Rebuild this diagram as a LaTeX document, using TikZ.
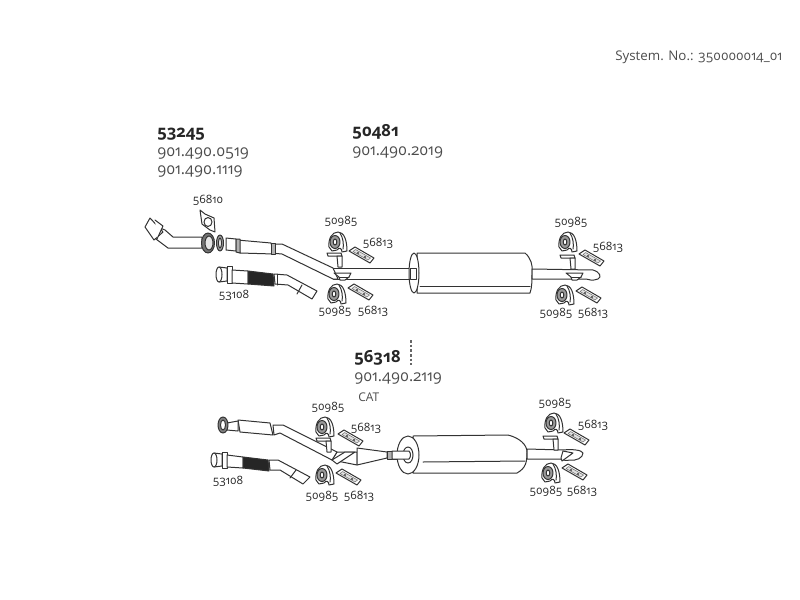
\documentclass[tikz,border=0pt]{standalone}
\usepackage{fontspec}
\setmainfont[Numbers=OldStyle]{Open Sans}
\tikzset{
  pipe/.style={draw=black!80,line width=0.75pt,fill=white,line join=round},
  bigno/.style={font=\fontsize{12.5}{13}\selectfont\bfseries,text=black!85,anchor=west,inner sep=0pt},
  artno/.style={font=\fontsize{11.8}{12}\selectfont,text=black!70,anchor=west,inner sep=0pt},
  partno/.style={font=\fontsize{8.6}{10}\selectfont,text=black!85,inner sep=0pt},
  mountpic/.pic={
    \draw[pipe] (-9,5) .. controls (-10,-3) and (-6,-10) .. (0,-10) .. controls (6,-10) and (9,-2) .. (9,9) -- (4,10) .. controls (4,6) and (1,5) .. (-1,8) -- (-6,9) -- cycle;
    \draw[pipe,fill=black!40] (-3,0) circle[x radius=5,y radius=6.5];
    \draw[pipe] (-3,0) circle[x radius=1.8,y radius=3];
    \draw[black!80,line width=0.75pt] (2,-9) .. controls (5,-5) and (6,3) .. (5,7);
  },
  platepic/.pic={
    \draw[pipe] (-12,-4) -- (-6,-8) -- (13,3) -- (9,8) -- cycle;
    \draw[draw=black!55,line width=0.4pt,fill=black!12] (-8,-3.5) -- (-5.5,-5.5) -- (9.5,3) -- (7,5) -- cycle;
    \fill[black!75] (-3,-2) circle[radius=1.2] (4,2) circle[radius=1.2];
  },
  hangerpic/.pic={
    \draw[pipe] (-9,-3) -- (5,-3) -- (6,0) -- (-8,0) -- cycle;
    \draw[pipe] (1,0) -- (6,0) -- (6,11) -- (2,11) -- cycle;
  },
  clamppic/.pic={
    \draw[pipe] (-9,-3) -- (8,-3) -- (6,1) -- (2,4) -- (-3,4) -- (-4,1) -- cycle;
    \draw[black!80,line width=0.75pt] (-4,1) -- (6,1);
  }
}
\begin{document}
\begin{tikzpicture}[x=0.75pt,y=-0.75pt,line join=round,line cap=round]
  \useasboundingbox (0,0) rectangle (800,600);
  % header
  \node[artno,font=\fontsize{10}{10}\selectfont] (sysno) at (615,57) {System. No.: 350000014\_01};
  \node[bigno] (no53245) at (157,134) {53245};
  \node[artno] (art0519) at (157,154) {901.490.0519};
  \node[artno] (art1119) at (157,172) {901.490.1119};
  \node[bigno] (no50481) at (352,132) {50481};
  \node[artno] (art2019) at (352,153) {901.490.2019};
  \node[bigno] (no56318) at (354,358) {56318};
  \node[artno] (art2119) at (354,379) {901.490.2119};
  \node[artno,font=\fontsize{9}{10}\selectfont] (cat) at (358,397) {CAT};
  \draw[black!60,line cap=butt,dash pattern=on 2pt off 1.5pt,line width=0.8pt] (411,340) -- (411,365);
  % upper system, front pipe
  \draw[pipe] (160,228) -- (165,230) -- (173,237) -- (202,237) -- (202,248) -- (168,248) -- (156,239) -- cycle;
  \draw[pipe] (150,218) -- (145,227) -- (154,240) -- (163,232) -- cycle;
  \draw[pipe] (155,220) -- (163,226) -- (157,239);
  \draw[pipe,fill=black!55] (208,243) circle[x radius=6.5,y radius=10];
  \draw[pipe,fill=black!10] (209,243) circle[x radius=4,y radius=7];
  \draw[pipe] (200,210) -- (205,214) -- (214,218) -- (215,232) -- (210,230) -- (202,224) -- cycle;
  \draw[pipe] (208,222) circle[x radius=4,y radius=4.5];
  \draw[pipe,fill=black!40] (220,243) circle[x radius=3.5,y radius=8];
  \draw[pipe,fill=white] (220,243) circle[x radius=1.5,y radius=5];
  \draw[pipe] (226,238) -- (236,239) -- (236,251) -- (226,250) -- cycle;
  % upper system, second pipe
  \draw[pipe] (333,268) -- (410,268) -- (410,279) -- (333,279) -- cycle;
  \draw[pipe] (271,244) -- (282,244) -- (333,268) -- (338,279) -- (333,279) -- (282,254) -- (271,253) -- cycle;
  \draw[pipe] (237,240) -- (271,243) -- (274,254) -- (240,253) -- cycle;
  \draw[pipe,fill=black!30] (236,239) -- (240,239) -- (240,253) -- (236,252) -- cycle;
  \draw[pipe,fill=black!30] (271,243) -- (275,243) -- (275,254) -- (271,254) -- cycle;
  % muffler
  \draw[pipe] (417,253) -- (525,253) .. controls (531,258) and (533,266) .. (532,272) .. controls (532,280) and (532,288) .. (530,293) -- (417,293) -- cycle;
  \draw[pipe] (414,273) circle[x radius=5,y radius=20];
  \draw[black!80,line width=0.75pt] (420,286) -- (530,286);
  \draw[pipe] (410,268) -- (416,268) -- (416,279) -- (410,279) -- cycle;
  \draw[pipe] (532,269) -- (593,270) .. controls (600,272) and (602,277) .. (598,279) .. controls (592,281) and (590,280) .. (586,279) -- (532,279) -- cycle;
  % upper system, 53108
  \draw[pipe] (219,267) -- (227,268) -- (227,281) -- (219,282) -- cycle;
  \draw[pipe] (219,274.5) circle[x radius=3,y radius=7.5];
  \draw[pipe] (227,266) -- (232,266) -- (232,283) -- (227,283) -- cycle;
  \draw[pipe] (232,270) -- (248,271) -- (248,284) -- (232,283) -- cycle;
  \draw[pipe,fill=black!85] (248,271) -- (273,274) -- (274,286) -- (248,284) -- cycle;
  \draw[pipe] (274,274) -- (287,275) -- (317,291) -- (312,299) -- (288,285) -- (275,284) -- cycle;
  \draw[pipe] (302,285) -- (297,294);
  \draw[pipe] (277,274) -- (277,285);
  % upper system, fittings
  \pic at (338,242) {mountpic};
  \pic at (337,294) {mountpic};
  \pic at (361,255) {platepic};
  \pic at (360,292) {platepic};
  \pic at (336,256) {hangerpic};
  \pic at (343,276) {clamppic};
  \pic at (568,242) {mountpic};
  \pic at (565,295) {mountpic};
  \pic at (591,258) {platepic};
  \pic at (588,295) {platepic};
  \pic at (569,258) {hangerpic};
  \pic at (575,276) {clamppic};
  % lower system, first pipe
  \draw[pipe] (337,452) -- (357,452) -- (357,465) -- (332,460) -- cycle;
  \draw[pipe] (357,448) -- (387,452) -- (387,458) -- (357,465) -- cycle;
  \draw[pipe,fill=black!30] (387,451) -- (392,451) -- (392,459) -- (387,459) -- cycle;
  \draw[pipe] (392,451) -- (413,451) -- (413,459) -- (392,459) -- cycle;
  \draw[pipe] (273,425) -- (283,425) -- (337,452) -- (332,460) -- (280,433) -- (274,435) -- cycle;
  \draw[pipe] (238,420) -- (270,423) -- (273,435) -- (240,432) -- cycle;
  \draw[pipe] (227,423) -- (238,421) -- (238,431) -- (227,430) -- cycle;
  \draw[pipe,fill=black!50] (223,425) circle[x radius=5,y radius=8];
  \draw[pipe] (223,425) circle[x radius=2.5,y radius=5];
  \draw[pipe] (332,460) -- (337,464) -- (355,452) -- (345,452) -- cycle;
  % lower muffler
  \draw[pipe] (413,436) -- (508,435) .. controls (520,438) and (527,445) .. (527,452) .. controls (527,462) and (526,468) .. (517,473) -- (413,473) -- cycle;
  \draw[pipe] (408,455) circle[x radius=11,y radius=19];
  \draw[pipe] (408,455) circle[x radius=5,y radius=8];
  \draw[black!80,line width=0.75pt] (423,462) -- (525,461);
  \draw[pipe] (392,451) -- (409,451) .. controls (411,453) and (411,457) .. (409,459) -- (392,459) -- cycle;
  \draw[pipe] (527,449) -- (563,450) .. controls (572,449) and (582,450) .. (583,453) .. controls (583,458) and (576,461) .. (570,460) .. controls (566,461) and (563,460) .. (560,459) -- (527,459) -- cycle;
  \draw[pipe] (563,451) -- (573,453) -- (562,461) -- (561,458) -- cycle;
  % lower system, 53108
  \draw[pipe] (214,453) -- (222,454) -- (222,466) -- (214,467) -- cycle;
  \draw[pipe] (214,460) circle[x radius=3,y radius=7];
  \draw[pipe] (222,452) -- (227,452) -- (227,468) -- (222,468) -- cycle;
  \draw[pipe] (227,455) -- (243,457) -- (243,468) -- (227,467) -- cycle;
  \draw[pipe,fill=black!85] (243,457) -- (268,460) -- (269,471) -- (243,468) -- cycle;
  \draw[pipe] (269,460) -- (278,460) -- (310,477) -- (303,484) -- (280,470) -- (270,470) -- cycle;
  \draw[pipe] (296,470) -- (290,478);
  % lower system, fittings
  \pic at (325,427) {mountpic};
  \pic at (325,475) {mountpic};
  \pic at (350,438) {platepic};
  \pic at (348,477) {platepic};
  \pic at (325,441) {hangerpic};
  \pic at (554,423) {mountpic};
  \pic at (551,473) {mountpic};
  \pic at (576,437) {platepic};
  \pic at (574,472) {platepic};
  \pic at (552,439) {hangerpic};
  % part numbers
  \node[partno] (gasket) at (208,200) {56810};
  \node[partno] (mounta) at (341,221) {50985};
  \node[partno] (platea) at (378,243) {56813};
  \node[partno] (pipea) at (234,295) {53108};
  \node[partno] (mountb) at (335,311) {50985};
  \node[partno] (plateb) at (373,311) {56813};
  \node[partno] (mountc) at (571,222) {50985};
  \node[partno] (platec) at (608,247) {56813};
  \node[partno] (mountd) at (556,313) {50985};
  \node[partno] (plated) at (593,313) {56813};
  \node[partno] (mounte) at (328,407) {50985};
  \node[partno] (platee) at (366,428) {56813};
  \node[partno] (pipeb) at (228,481) {53108};
  \node[partno] (mountf) at (322,496) {50985};
  \node[partno] (platef) at (359,496) {56813};
  \node[partno] (mountg) at (555,403) {50985};
  \node[partno] (plateg) at (593,425) {56813};
  \node[partno] (mounth) at (546,491) {50985};
  \node[partno] (plateh) at (582,491) {56813};
\end{tikzpicture}
\end{document}
